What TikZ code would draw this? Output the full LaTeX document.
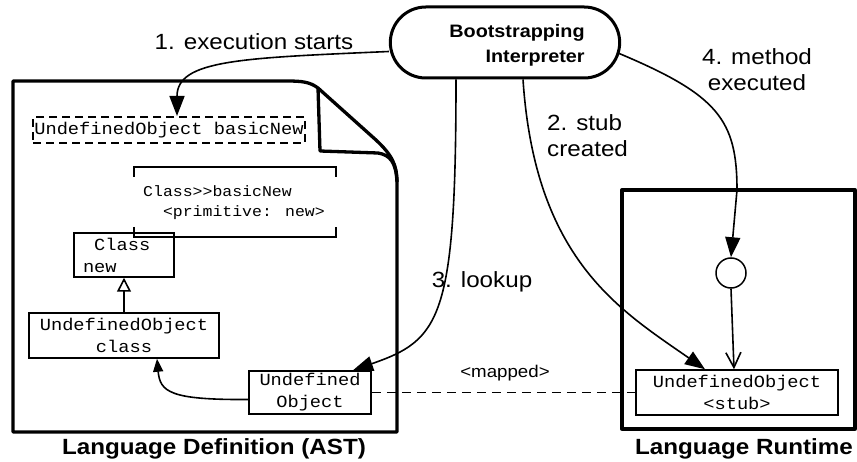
\documentclass[tikz,border=0pt]{standalone}
\usepackage{fontspec}
\setmainfont{Liberation Sans}
\newfontfamily\labfont[FakeStretch=1.1]{Liberation Sans}
\newfontfamily\codefont[FakeStretch=1.1]{Liberation Mono}
\usetikzlibrary{arrows.meta,shapes.misc,calc}
\tikzset{
  lab/.style={font=\labfont\fontsize{22}{26}\selectfont, inner sep=0pt, align=center},
  captext/.style={font=\labfont\bfseries\fontsize{22}{26}\selectfont, inner sep=0pt},
  code/.style={font=\codefont\fontsize{17}{22}\selectfont, align=center},
  codebox/.style={code, draw, line width=1.5pt, inner sep=0pt},
  conn/.style={line width=1.6pt},
  fillhead/.style={-{Triangle[length=20pt,width=15pt]}},
  thickbox/.style={line width=3.3pt, line join=round},
}
\begin{document}
\begin{tikzpicture}[x=1pt,y=-1pt]
\useasboundingbox (0,0) rectangle (857,462);

% containers
\draw[thickbox] (13,81) -- (287,81) .. controls (302,81) and (310,82) .. (318,88)
  -- (376,140) .. controls (392,155) and (397,165) .. (397,182)
  -- (397,432) -- (13,432) -- cycle;
\draw[thickbox] (318,88) -- (320,151) -- (378,153) .. controls (390,155) and (396,162) .. (397,182);
\draw[thickbox] (622,190) rectangle (855,429);

% interpreter
\node[draw, line width=3pt, rounded rectangle, minimum width=236pt, minimum height=71pt] (interp) at (505,42.5) {};
\node[font=\labfont\bfseries\fontsize{18}{25}\selectfont, align=right, inner sep=0pt] (interptext) at (517,45) {Bootstrapping\\Interpreter};

% AST nodes
\node[code, draw, dashed, line width=2pt, dash pattern=on 8pt off 5pt, minimum width=272pt, minimum height=26pt, inner sep=0pt] (basicnew) at (169,130) {UndefinedObject basicNew};

\node[font=\codefont\fontsize{15}{20}\selectfont, align=left, inner sep=0pt, anchor=west] (method) at (143,203) {Class>>basicNew\\\phantom{xx}<primitive: new>};
\draw[line width=1.5pt] (134,177) -- (134,167) -- (336,167) -- (336,177);
\draw[line width=1.5pt] (134,227) -- (134,237) -- (336,237) -- (336,227);

\node[code, draw, line width=1.5pt, align=left, text width=82pt, inner xsep=9pt, inner ysep=0pt, minimum height=44pt, font=\codefont\fontsize{17}{22}\selectfont] (classnode) at (124,255) {\phantom{x}Class\\new};
\node[codebox, minimum width=190pt, minimum height=45pt] (ucls) at (124,335.5) {UndefinedObject\\class};
\node[codebox, minimum width=122pt, minimum height=43pt, fill=white] (uobj) at (310,392.5) {Undefined\\Object};

% runtime nodes
\node[draw, circle, line width=1.5pt, minimum size=30pt, inner sep=0pt] (circ) at (731,273) {};
\node[codebox, minimum width=202pt, minimum height=45pt, fill=white] (stub) at (737,392.5) {UndefinedObject\\<stub>};

% connectors
\draw[conn, fillhead] ([yshift=-9pt]interp.west) .. controls (240,58) and (177,60) .. ([xshift=8pt]basicnew.north);
\draw[conn, fillhead] ([xshift=18pt]interp.south) .. controls (535,260) and (620,310) .. ([xshift=-32pt]stub.north);
\draw[conn, fillhead] ([xshift=-49pt]interp.south) .. controls (456,320) and (440,340) .. ([xshift=43pt]uobj.north);
\draw[conn, fillhead] ([yshift=-11pt,xshift=-2pt]interp.east) .. controls (718,95) and (737,120) .. (737,190) -- (circ.north);
\draw[conn, -{Straight Barb[length=15pt,width=15pt]}] (circ.south) -- ([xshift=-3pt]stub.north);
\draw[conn, -{Triangle[open,length=14pt,width=14pt]}] (ucls.north) -- (classnode.south);
\draw[conn, -{Triangle[length=13pt,width=10pt]}] ([yshift=-7pt]uobj.west) .. controls (170,400) and (160,392) .. ([xshift=33pt]ucls.south);
\draw[line width=1.6pt, dashed, dash pattern=on 9pt off 6pt] (uobj.east) -- (stub.west);

% labels
\node[lab] (l1) at (254,42) {1. execution starts};
\node[lab, align=left, anchor=west] (l2) at (547,136) {2. stub\\created};
\node[lab] (l3) at (482,282) {3. lookup};
\node[lab] (l4) at (757,70) {4. method\\executed};
\node[font=\labfont\fontsize{17}{20}\selectfont, inner sep=0pt] (lmap) at (505,373) {<mapped>};
\node[captext] (c1) at (214,449) {Language Definition (AST)};
\node[captext] (c2) at (744,449) {Language Runtime};
\end{tikzpicture}
\end{document}
